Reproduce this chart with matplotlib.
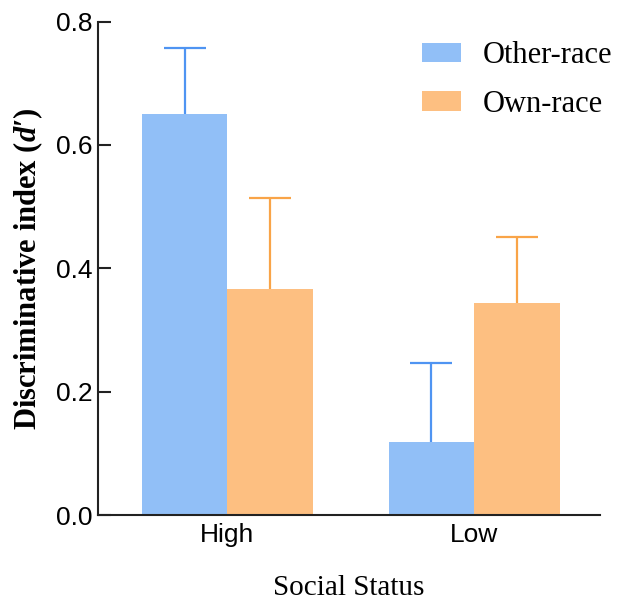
import numpy as np
import matplotlib.pyplot as plt

plt.rcParams['mathtext.fontset'] = 'custom'
plt.rcParams['mathtext.rm'] = 'Liberation Serif:bold'
plt.rcParams['mathtext.bfit'] = 'Liberation Serif:bold:italic'
plt.rcParams['mathtext.it'] = 'Liberation Serif:italic'

# data
groups = ['High', 'Low']
series = ['Other-race', 'Own-race']
other_race = [0.650, 0.118]
own_race = [0.366, 0.344]
other_err = [0.107, 0.128]
own_err = [0.148, 0.107]

bar_colors = ['#91bff7', '#fdbf81']
err_colors = ['#4f94f2', '#f9a448']

fig = plt.figure(figsize=(6.19, 6.01), dpi=100)
ax = fig.add_axes([0.158, 0.143, 0.811, 0.821])

x = np.arange(len(groups))
w = 0.347

for vals, errs, off, c, ec, lab in [
        (other_race, other_err, -w / 2, bar_colors[0], err_colors[0], series[0]),
        (own_race, own_err, w / 2, bar_colors[1], err_colors[1], series[1])]:
    ax.bar(x + off, vals, width=w, color=c, label=lab, zorder=2)
    eb = ax.errorbar(x + off, vals, yerr=[np.zeros(len(vals)), errs], fmt='none',
                     ecolor=ec, elinewidth=1.6, capsize=15, capthick=1.6, zorder=1)
    # only the upper cap is shown
    eb[1][0].set_visible(False)

ax.set_xlim(-0.526, 1.51)
ax.set_ylim(0, 0.8)
ax.set_yticks([0.0, 0.2, 0.4, 0.6, 0.8])
ax.set_yticklabels(['0.0', '0.2', '0.4', '0.6', '0.8'])
ax.set_xticks(x)
ax.set_xticklabels(groups)

for s in ['top', 'right']:
    ax.spines[s].set_visible(False)
for s in ['left', 'bottom']:
    ax.spines[s].set_linewidth(1.5)
    ax.spines[s].set_color('#222222')

ax.tick_params(direction='in', length=9.5, width=1.5, color='#222222',
               labelsize=19)
ax.tick_params(axis='y', pad=4)
ax.tick_params(axis='x', pad=6)
for t in ax.get_xticklabels() + ax.get_yticklabels():
    t.set_fontfamily('Liberation Sans')

ax.set_xlabel('Social Status', fontfamily='Liberation Serif', fontsize=21, labelpad=20)
ax.set_ylabel("Discriminative index ($\\mathbfit{d}$\u2032)", fontfamily='Liberation Serif',
              fontweight='bold', fontsize=22, labelpad=8)

leg = ax.legend(loc='center left', bbox_to_anchor=(422 / 619, 1 - 80 / 601),
                bbox_transform=fig.transFigure, frameon=False,
                prop={'family': 'Liberation Serif', 'size': 22},
                handlelength=1.27, handleheight=0.6, labelspacing=0.63,
                handletextpad=0.72, borderpad=0, borderaxespad=0)

fig.savefig('out.png', dpi=100)
